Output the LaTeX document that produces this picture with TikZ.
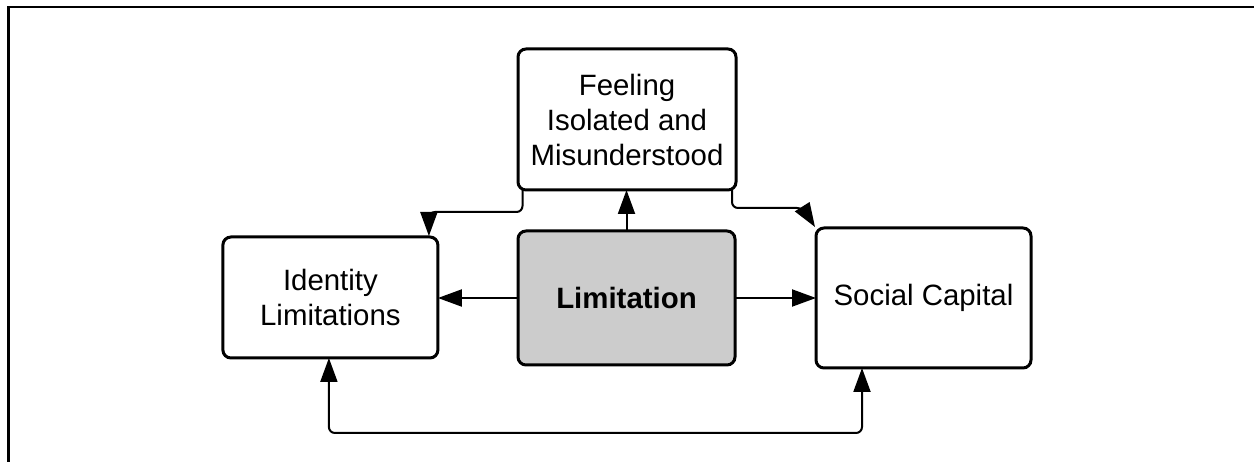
\documentclass[tikz,border=0pt]{standalone}
\usepackage{fontspec}
\setmainfont{Liberation Sans}
\usetikzlibrary{arrows.meta}

\tikzset{
  box/.style={draw=black, line width=3pt, rounded corners=8pt, fill=white,
    inner sep=0pt, outer sep=0pt, align=center, font=\fontsize{29.4}{35}\selectfont},
  corebox/.style={box, fill=black!20, font=\fontsize{29.4}{35}\selectfont\bfseries},
  tip/.tip={Triangle[length=24pt,width=17pt]},
  conn/.style={draw=black, line width=2pt, -tip},
  bent/.style={conn, rounded corners=6pt},
  biconn/.style={bent, tip-tip},
  frameline/.style={draw=black, line width=2.5pt}
}

\begin{document}
\begin{tikzpicture}[x=1pt, y=-1pt]
  \useasboundingbox (0,0) rectangle (1254,462);

  % outer frame (top and left edges)
  \draw[frameline] (1256,7) -- (8.5,7) -- (8.5,464);

  % boxes
  \node[box, minimum width=218pt, minimum height=141pt] (fe) at (627,119.5)
    {Feeling\\Isolated and\\Misunderstood};
  \node[corebox, minimum width=217pt, minimum height=134pt] (li) at (626.5,298)
    {Limitation};
  \node[box, minimum width=215pt, minimum height=121pt] (id) at (330.4,297.5)
    {Identity\\Limitations};
  \node[box, minimum width=215pt, minimum height=140pt] (sc) at (923.5,298)
    {Social Capital};

  % connectors from the core box
  \draw[conn] (li.north) -- (li.north |- fe.south);
  \draw[conn] (li.west) -- (li.west -| id.east);
  \draw[conn] (li.east) -- (li.east -| sc.west);

  % connectors leaving the upper box
  \draw[bent] ([xshift=4.5pt]fe.south west) -- ++(0,22) -| ([xshift=-9pt,yshift=1pt]id.north east);
  \coordinate (kink) at ([xshift=-13pt,yshift=20pt]sc.north west);
  \draw[bent] ([xshift=-4pt]fe.south east) -- ++(0,18) -- (kink) [sharp corners] -- ([shift={(-1pt,1pt)}]sc.north west);

  % two-way link along the bottom
  \draw[biconn] ([xshift=-1.5pt]id.south) -- ++(0,75) -| ([xshift=-61.5pt]sc.south);
\end{tikzpicture}
\end{document}
